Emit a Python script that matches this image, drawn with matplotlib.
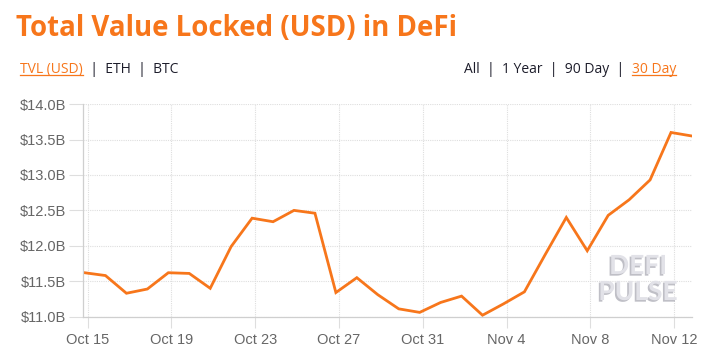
import matplotlib
matplotlib.use("Agg")
import matplotlib.pyplot as plt
import matplotlib.patheffects as pe
from matplotlib.lines import Line2D
import pandas as pd

# data (billions USD, one point per day)
dates = pd.date_range("2020-10-15", "2020-11-13", freq="D")
tvl = [11.62, 11.58, 11.33, 11.39, 11.62, 11.61, 11.40, 11.99, 12.39, 12.34,
       12.50, 12.46, 11.34, 11.55, 11.31, 11.11, 11.06, 11.20, 11.29, 11.02,
       11.18, 11.35, 11.88, 12.40, 11.93, 12.43, 12.65, 12.93, 13.60, 13.55]
yticks = [11.0, 11.5, 12.0, 12.5, 13.0, 13.5, 14.0]
xtick_days = ["2020-10-15", "2020-10-19", "2020-10-23", "2020-10-27",
              "2020-10-31", "2020-11-04", "2020-11-08", "2020-11-12"]
xtick_labels = ["Oct 15", "Oct 19", "Oct 23", "Oct 27",
                "Oct 31", "Nov 4", "Nov 8", "Nov 12"]

ORANGE = "#f7761b"
DARK = "#1d1d2b"
GREY = "#666666"
GRID = "#dedede"

plt.rcParams["font.family"] = ["Liberation Sans", "DejaVu Sans"]

fig = plt.figure(figsize=(7.13, 3.53), dpi=100)
ax = fig.add_axes([0.116, 0.103, 0.8545, 0.602])

# the series points sit a few hours before the day ticks
shift = pd.Timedelta(hours=3.6)
ax.plot(dates - shift, tvl, color=ORANGE, lw=2.0, solid_joinstyle="miter")

ax.set_xticks(pd.to_datetime(xtick_days))
ax.set_xticklabels(xtick_labels)
ax.set_xlim(pd.Timestamp("2020-10-15") - pd.Timedelta(hours=5.7),
            pd.Timestamp("2020-11-13") - shift)
ax.set_yticks(yticks)
ax.set_yticklabels(["$%.1fB" % v for v in yticks])
ax.set_ylim(11.0, 14.0)

ax.grid(True, color=GRID, lw=0.8, ls=(0, (1, 1)))
ax.tick_params(axis="both", colors=GRID, labelcolor=GREY, labelsize=10.5,
               width=0.8)
ax.tick_params(axis="y", length=10, pad=2)
ax.tick_params(axis="x", length=8, pad=4)
for s in ["top", "right"]:
    ax.spines[s].set_visible(False)
for s in ["left", "bottom"]:
    ax.spines[s].set_color("#cfcfcf")
    ax.spines[s].set_linewidth(0.9)

# watermark
wm = dict(ha="center", va="center", fontsize=19, fontweight="bold",
          family="Lato", color="#e2e2e8", transform=fig.transFigure,
          path_effects=[pe.withSimplePatchShadow(offset=(-1.2, -1.2),
                                                 shadow_rgbFace="#b8b8c0",
                                                 alpha=0.9)])
fig.text(638 / 713, 1 - 266 / 353, "DEFI", **wm)
fig.text(638 / 713, 1 - 292 / 353, "PULSE", **wm)

# title
fig.text(16 / 713, 1 - 36 / 353, "Total Value Locked (USD) in DeFi",
         color=ORANGE, fontsize=19.9, fontweight="bold", family="Open Sans",
         va="baseline")

fig.canvas.draw()
renderer = fig.canvas.get_renderer()


def place_row(x0, y0, pieces, align="left"):
    # lay out pieces of text one after another, underline where asked
    objs = []
    x = x0
    for txt, col, und in pieces:
        t = fig.text(x, y0, txt, color=col, fontsize=10, family="Open Sans",
                     va="baseline", transform=None)
        bb = t.get_window_extent(renderer)
        objs.append((t, und, bb))
        x = bb.x1
    if align == "right":
        dx = x0 - x
        for t, und, bb in objs:
            px, py = t.get_position()
            t.set_position((px + dx, py))
        objs = [(t, u, t.get_window_extent(renderer)) for t, u, _ in objs]
    for t, und, bb in objs:
        if und:
            fig.add_artist(Line2D([bb.x0, bb.x1], [y0 - 2, y0 - 2],
                                  transform=None, color=ORANGE, lw=0.9))


base_y = 353 - 72.7
place_row(20, base_y, [("TVL (USD)", ORANGE, True), ("  |  ETH  |  BTC", DARK, False)])
place_row(676, base_y, [("All  |  1 Year  |  90 Day  |  ", DARK, False),
                        ("30 Day", ORANGE, True)], align="right")

fig.savefig("out.png", dpi=100)
